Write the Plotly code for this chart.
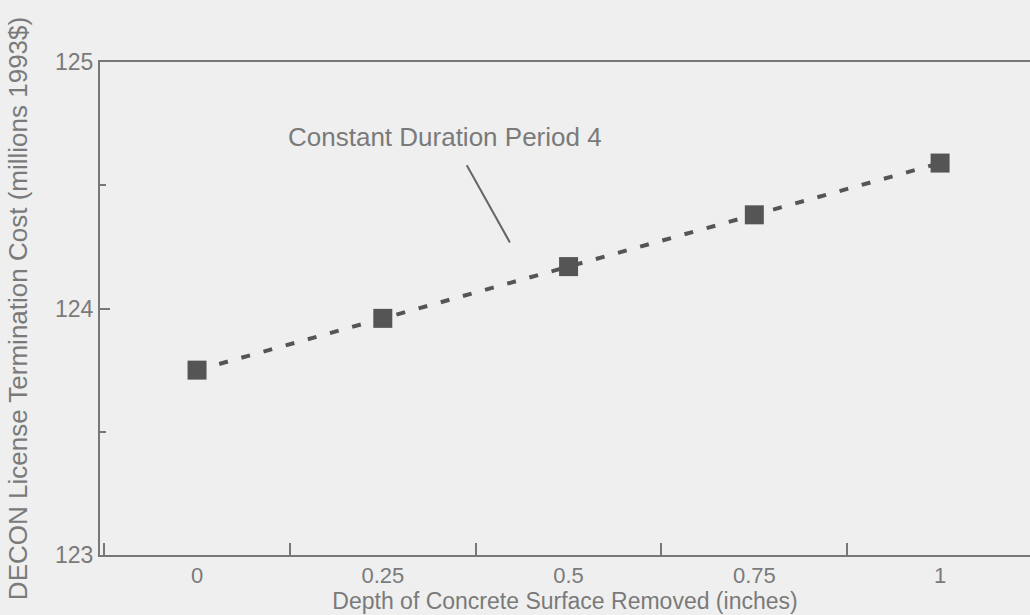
import plotly.graph_objects as go

depth = [0, 0.25, 0.5, 0.75, 1.0]
cost = [123.75, 123.96, 124.17, 124.38, 124.59]
x_ticks = [0, 0.25, 0.5, 0.75, 1]
x_tick_labels = ["0", "0.25", "0.5", "0.75", "1"]
y_ticks = [123, 124, 125]
y_tick_labels = ["123", "124", "125"]

bg = "#efefef"
txt = "#7a7a7a"
ax_col = "#777777"
mark_col = "#555555"
FONT = "Liberation Sans, Arial, sans-serif"

fig = go.Figure()
fig.add_trace(go.Scatter(
    x=depth, y=cost, mode="lines+markers",
    line=dict(color=mark_col, width=4, dash="9px,14px"),
    marker=dict(symbol="square", size=19, color=mark_col),
    showlegend=False, hoverinfo="skip",
))

fig.add_annotation(x=0.334, y=124.695, xref="x", yref="y",
                   text="Constant Duration Period 4", showarrow=False,
                   font=dict(family=FONT, size=26, color=txt))
fig.add_shape(type="line", xref="x", yref="y",
              x0=0.363, y0=124.581, x1=0.421, y1=124.268,
              line=dict(color="#666666", width=2))

fig.update_layout(
    width=1030, height=615,
    margin=dict(l=100, r=0, t=62, b=60),
    paper_bgcolor=bg, plot_bgcolor=bg,
    font=dict(family=FONT, color=txt, size=22),
    xaxis=dict(
        range=[-0.1306, 1.121], tickvals=x_ticks, ticktext=x_tick_labels,
        ticks="", showgrid=False, zeroline=False,
        showline=True, linecolor=ax_col, linewidth=2, mirror=True,
        minor=dict(tick0=0.125, dtick=0.25, ticks="inside", ticklen=12,
                   tickcolor=ax_col, tickwidth=1.5, showgrid=False),
        tickfont=dict(size=22, color=txt),
        title=dict(text="Depth of Concrete Surface Removed (inches)",
                   font=dict(size=23, color=txt), standoff=2),
    ),
    yaxis=dict(
        range=[123, 125], tickvals=y_ticks, ticktext=y_tick_labels,
        ticks="inside", ticklen=10, tickcolor=ax_col, tickwidth=1.5,
        showgrid=False, zeroline=False,
        showline=True, linecolor=ax_col, linewidth=2,
        minor=dict(tick0=123.5, dtick=1, ticks="inside", ticklen=6,
                   tickcolor=ax_col, tickwidth=1.5, showgrid=False),
        tickfont=dict(size=23, color=txt),
        title=dict(text="DECON License Termination Cost (millions 1993$)",
                   font=dict(size=26, color=txt), standoff=20),
    ),
)

fig.write_html("out.html")
